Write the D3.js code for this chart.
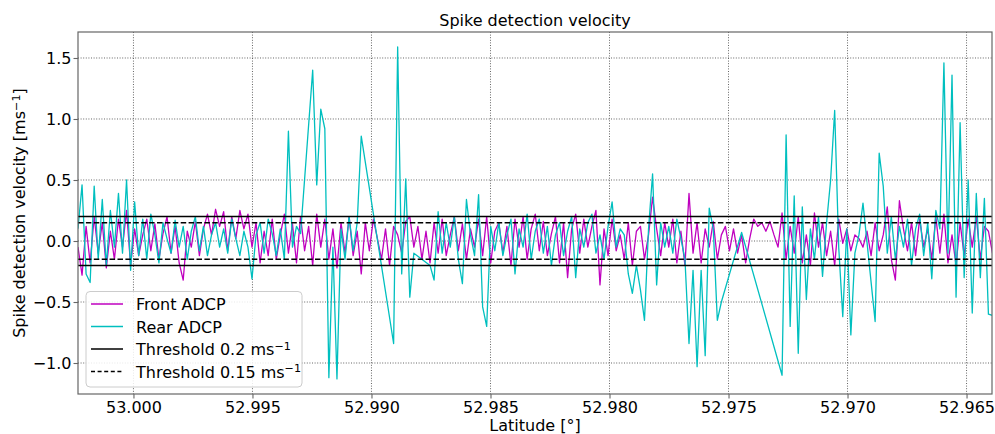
<!DOCTYPE html>
<html><head><meta charset="utf-8">
<script src="https://cdn.jsdelivr.net/npm/d3@7"></script>
<style>body{margin:0;background:#fff}svg{display:block}</style>
</head><body><svg id="c" width="995" height="434"></svg>
<script>
const latitude = [
53.00233,53.00216,53.00199,53.00182,53.00165,53.00148,53.00131,53.00114,53.00097,53.00080,
53.00063,53.00046,53.00029,53.00012,52.99995,52.99978,52.99961,52.99944,52.99927,52.99910,
52.99893,52.99876,52.99859,52.99842,52.99825,52.99808,52.99791,52.99774,52.99757,52.99740,
52.99723,52.99706,52.99689,52.99672,52.99655,52.99638,52.99621,52.99604,52.99587,52.99570,
52.99553,52.99536,52.99519,52.99502,52.99485,52.99468,52.99451,52.99434,52.99417,52.99400,
52.99383,52.99366,52.99349,52.99332,52.99315,52.99298,52.99281,52.99264,52.99247,52.99230,
52.99213,52.99196,52.99179,52.99162,52.99145,52.99128,52.99111,52.99094,52.99077,52.99060,
52.99043,52.99026,52.99009,52.98992,52.98975,52.98958,52.98941,52.98924,52.98907,52.98890,
52.98873,52.98856,52.98839,52.98822,52.98805,52.98788,52.98771,52.98754,52.98737,52.98720,
52.98703,52.98686,52.98669,52.98652,52.98635,52.98618,52.98601,52.98584,52.98567,52.98550,
52.98533,52.98516,52.98499,52.98482,52.98465,52.98448,52.98431,52.98414,52.98397,52.98380,
52.98363,52.98346,52.98329,52.98312,52.98295,52.98278,52.98261,52.98244,52.98227,52.98210,
52.98193,52.98176,52.98159,52.98142,52.98125,52.98108,52.98091,52.98074,52.98057,52.98040,
52.98023,52.98006,52.97989,52.97972,52.97955,52.97938,52.97921,52.97904,52.97887,52.97870,
52.97853,52.97836,52.97819,52.97802,52.97785,52.97768,52.97751,52.97734,52.97717,52.97700,
52.97683,52.97666,52.97649,52.97632,52.97615,52.97598,52.97581,52.97564,52.97547,52.97530,
52.97513,52.97496,52.97479,52.97462,52.97445,52.97428,52.97411,52.97394,52.97377,52.97360,
52.97343,52.97326,52.97309,52.97292,52.97275,52.97258,52.97241,52.97224,52.97207,52.97190,
52.97173,52.97156,52.97139,52.97122,52.97105,52.97088,52.97071,52.97054,52.97037,52.97020,
52.97003,52.96986,52.96969,52.96952,52.96935,52.96918,52.96901,52.96884,52.96867,52.96850,
52.96833,52.96816,52.96799,52.96782,52.96765,52.96748,52.96731,52.96714,52.96697,52.96680,
52.96663,52.96646,52.96629,52.96612,52.96595,52.96578,52.96561,52.96544,52.96527,52.96510,
52.96493,52.96476,52.96459,52.96442,52.96425,52.96408,52.96391];

const frontADCP = [
-0.05,-0.28,0.12,-0.18,0.20,-0.10,0.15,-0.22,0.08,-0.15,
0.18,-0.05,0.25,-0.20,0.10,-0.12,0.05,0.18,-0.08,0.14,
-0.15,0.06,0.20,-0.10,0.12,-0.18,-0.32,0.08,-0.05,0.16,
-0.12,0.10,0.22,0.05,0.26,0.12,0.24,-0.08,0.20,0.02,
0.25,0.10,0.22,-0.05,0.15,-0.18,0.08,-0.12,0.18,-0.15,
0.05,0.22,-0.10,0.14,-0.18,0.20,-0.08,0.12,-0.20,0.22,
-0.05,0.18,-0.15,0.10,-0.22,0.15,-0.10,0.20,-0.12,0.08,
-0.27,0.15,-0.08,0.18,0.02,-0.15,0.10,-0.20,0.12,0.05,
-0.10,0.16,0.20,-0.05,0.12,-0.15,0.08,-0.18,0.15,-0.10,
0.18,-0.12,0.05,0.20,-0.08,0.14,-0.15,0.10,-0.05,0.18,
-0.12,0.20,-0.18,0.08,0.15,-0.10,0.12,-0.20,0.18,-0.05,
0.20,-0.15,0.10,0.22,-0.08,0.16,-0.12,0.06,0.20,-0.18,
0.15,-0.30,0.10,0.22,-0.10,0.18,-0.05,0.12,0.25,-0.36,
0.10,-0.12,0.18,-0.08,0.05,-0.15,0.15,-0.20,0.08,0.12,
-0.15,0.05,0.36,0.10,-0.12,0.15,-0.05,0.18,-0.18,0.08,
-0.20,0.39,-0.10,0.15,-0.18,0.10,-0.05,0.16,-0.15,0.05,
0.12,-0.08,0.10,-0.10,0.05,-0.18,0.02,0.18,0.12,0.15,
0.08,0.16,0.05,-0.05,0.23,-0.15,0.12,-0.10,0.20,-0.18,
0.05,-0.20,0.23,-0.05,0.15,-0.12,0.08,-0.20,0.18,-0.02,
0.10,-0.08,0.05,0.02,-0.05,0.08,-0.12,0.15,-0.08,0.05,
0.28,-0.15,-0.32,0.33,0.10,-0.08,0.15,-0.12,0.18,-0.05,
0.10,-0.15,0.20,-0.10,0.22,-0.18,0.05,-0.20,0.15,-0.12,
0.18,-0.05,0.20,-0.15,0.12,0.08,-0.10];

const rearADCP = [
0.10,0.46,-0.27,-0.34,0.45,-0.15,0.34,-0.20,0.25,-0.05,
0.39,-0.10,0.50,-0.24,0.32,-0.12,0.18,-0.15,0.22,0.05,
-0.18,0.15,0.02,-0.10,0.17,-0.05,0.12,-0.15,0.08,0.20,
-0.08,0.12,-0.12,0.05,0.15,-0.05,0.10,-0.10,0.18,0.02,
-0.12,0.08,-0.05,-0.31,0.05,0.15,-0.10,0.18,0.06,-0.12,
0.10,-0.15,0.90,-0.05,0.12,0.06,null,null,1.40,0.46,
1.08,0.92,-1.12,-0.05,-1.13,0.10,-0.15,0.20,-0.08,0.15,
0.86,null,null,null,null,null,null,null,-0.84,1.59,
-0.27,0.51,-0.46,-0.10,null,null,null,-0.20,-0.32,0.24,
-0.10,0.15,-0.05,0.20,-0.15,-0.35,0.34,0.05,-0.12,0.38,
-0.54,-0.70,0.12,-0.08,0.15,-0.12,0.05,0.18,-0.27,0.10,
-0.05,0.22,-0.15,0.08,0.18,-0.10,0.12,-0.20,0.05,0.15,
-0.12,0.08,0.20,-0.30,0.10,-0.05,0.15,0.22,-0.10,0.05,
-0.15,0.12,0.32,-0.05,0.10,0.05,-0.27,-0.43,-0.20,-0.40,
-0.65,0.10,0.55,-0.36,0.15,-0.05,0.12,-0.10,0.18,0.02,
-0.15,-0.84,-0.24,-1.03,-0.24,-0.94,0.27,0.10,-0.65,-0.50,
null,null,null,null,0.07,null,null,null,null,null,
null,null,null,null,-1.10,0.87,-0.70,0.37,-0.92,0.28,
-0.48,0.10,-0.15,0.20,-0.29,0.15,0.50,1.07,-0.05,-0.62,
0.10,-0.77,-0.10,0.05,0.31,null,null,-0.66,0.72,0.45,
-0.10,0.20,-0.15,0.12,-0.05,0.18,-0.20,0.10,0.22,-0.12,
0.15,-0.31,0.25,0.10,1.46,-0.10,1.36,-0.46,0.97,-0.30,
0.50,-0.59,0.39,-0.30,0.35,-0.60,-0.61];

const xTicks = [53.000, 52.995, 52.990, 52.985, 52.980, 52.975, 52.970, 52.965];
const yTicks = [-1.0, -0.5, 0.0, 0.5, 1.0, 1.5];
const thresholdSolid = 0.2;
const thresholdDashed = 0.15;
const xDomain = [53.00233, 52.96393];
const yDomain = [-1.254, 1.713];
const seriesNames = ["Front ADCP", "Rear ADCP"];
const seriesColors = ["#bf00bf", "#00bfbf"];

const FONT = "DejaVu Sans";
const L = 78, R = 992, T = 32, B = 394;
const svg = d3.select("#c").style("font-family", FONT);
svg.append("rect").attr("width", 995).attr("height", 434).attr("fill", "#fff");

const x = d3.scaleLinear().domain(xDomain).range([L, R]);
const y = d3.scaleLinear().domain(yDomain).range([B, T]);

svg.append("defs").append("clipPath").attr("id", "clip")
  .append("rect").attr("x", L).attr("y", T).attr("width", R - L).attr("height", B - T);

// grid
const grid = svg.append("g").attr("stroke", "#555").attr("stroke-width", 0.9).attr("stroke-dasharray", "1,1.6");
grid.selectAll(".gx").data(xTicks).join("line")
  .attr("x1", d => x(d)).attr("x2", d => x(d)).attr("y1", T).attr("y2", B);
grid.selectAll(".gy").data(yTicks).join("line")
  .attr("y1", d => y(d)).attr("y2", d => y(d)).attr("x1", L).attr("x2", R);

// data
const rows = latitude.map((lat, i) => ({ lat, f: frontADCP[i], r: rearADCP[i] }));
const plot = svg.append("g").attr("clip-path", "url(#clip)");
const lineF = d3.line().x(d => x(d.lat)).y(d => y(d.f));
const lineR = d3.line().x(d => x(d.lat)).y(d => y(d.r));
plot.append("path").datum(rows.filter(d => d.f != null)).attr("d", lineF)
  .attr("fill", "none").attr("stroke", seriesColors[0]).attr("stroke-width", 1.3).attr("stroke-linejoin", "round");
plot.append("path").datum(rows.filter(d => d.r != null)).attr("d", lineR)
  .attr("fill", "none").attr("stroke", seriesColors[1]).attr("stroke-width", 1.3).attr("stroke-linejoin", "round");

// thresholds
[thresholdSolid, -thresholdSolid].forEach(v => {
  plot.append("line").attr("x1", L).attr("x2", R).attr("y1", y(v)).attr("y2", y(v))
    .attr("stroke", "#000").attr("stroke-width", 1.5);
});
[thresholdDashed, -thresholdDashed].forEach(v => {
  plot.append("line").attr("x1", L).attr("x2", R).attr("y1", y(v)).attr("y2", y(v))
    .attr("stroke", "#000").attr("stroke-width", 1.5).attr("stroke-dasharray", "5.5,2.4");
});

// axes
const xAxis = svg.append("g").attr("transform", `translate(0,${B})`)
  .call(d3.axisBottom(x).tickValues(xTicks).tickFormat(d3.format(".3f")).tickSize(4.5).tickPadding(3));
const yAxis = svg.append("g").attr("transform", `translate(${L},0)`)
  .call(d3.axisLeft(y).tickValues(yTicks).tickFormat(d3.format(".1f")).tickSize(4.5).tickPadding(2));
[xAxis, yAxis].forEach(g => {
  g.select(".domain").remove();
  g.selectAll(".tick line").attr("stroke", "#666").attr("stroke-width", 1.1);
  g.selectAll(".tick text").attr("font-family", FONT).attr("font-size", 16).attr("fill", "#000");
});

// frame
svg.append("rect").attr("x", L).attr("y", T).attr("width", R - L).attr("height", B - T)
  .attr("fill", "none").attr("stroke", "#666").attr("stroke-width", 1.2);

// title & labels
svg.append("text").attr("x", (L + R) / 2).attr("y", 26).attr("text-anchor", "middle")
  .attr("font-size", 16).text("Spike detection velocity");
svg.append("text").attr("x", (L + R) / 2).attr("y", 431).attr("text-anchor", "middle")
  .attr("font-size", 16).text("Latitude [°]");
const yl = svg.append("text").attr("transform", `translate(25,${(T + B) / 2}) rotate(-90)`)
  .attr("text-anchor", "middle").attr("font-size", 16);
yl.append("tspan").text("Spike detection velocity [ms");
yl.append("tspan").attr("dy", -5.5).attr("font-size", 11.2).text("−1");
yl.append("tspan").attr("dy", 5.5).text("]");

// legend
const lg = svg.append("g");
lg.append("rect").attr("x", 86).attr("y", 291.5).attr("width", 216).attr("height", 95.5)
  .attr("rx", 4).attr("fill", "#fff").attr("fill-opacity", 0.85).attr("stroke", "#ccc").attr("stroke-width", 1);
const items = [
  { label: [seriesNames[0]], color: seriesColors[0], dash: null },
  { label: [seriesNames[1]], color: seriesColors[1], dash: null },
  { label: ["Threshold " + thresholdSolid + " ms", "−1"], color: "#000", dash: null },
  { label: ["Threshold " + thresholdDashed + " ms", "−1"], color: "#000", dash: "4,2.6" }
];
const rowsY = [304, 326.5, 349, 371.5];
items.forEach((it, i) => {
  const yy = rowsY[i];
  lg.append("line").attr("x1", 91).attr("x2", 123).attr("y1", yy).attr("y2", yy)
    .attr("stroke", it.color).attr("stroke-width", 1.5).attr("stroke-dasharray", it.dash);
  const t = lg.append("text").attr("x", 136).attr("y", yy + 6).attr("font-size", 16);
  t.append("tspan").text(it.label[0]);
  if (it.label[1]) t.append("tspan").attr("dy", -5.5).attr("font-size", 11.2).text(it.label[1]);
});
</script></body></html>
